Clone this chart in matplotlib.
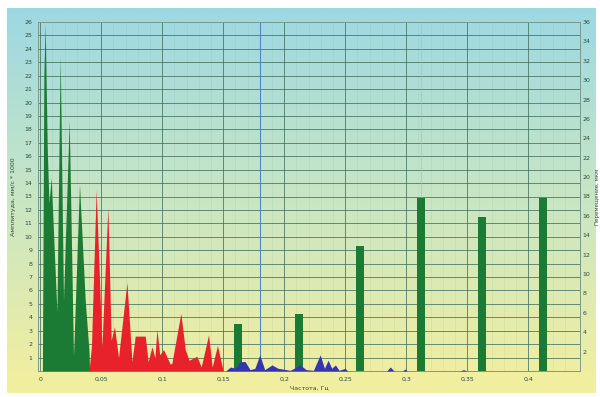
import numpy as np
import matplotlib.pyplot as plt
from matplotlib.colors import LinearSegmentedColormap

# spectrum, low band (green)
green_f = [0.0018, 0.0030, 0.0041, 0.0058, 0.0072, 0.0090, 0.0137, 0.0164, 0.0191,
           0.0238, 0.0273, 0.0322, 0.0369, 0.0400, 0.0405]
green_a = [0, 22.0, 25.9, 16.5, 12.5, 14.4, 4.4, 23.5, 5.3, 18.7, 1.1, 13.9, 5.3, 1.5, 0]

# spectrum, middle band (red)
red_f = [0.0400, 0.0420, 0.0459, 0.0506, 0.0555, 0.0582, 0.0609, 0.0642, 0.0711, 0.0752,
         0.0779, 0.0861, 0.0885, 0.0916, 0.0940, 0.0957, 0.0980, 0.1011, 0.1066, 0.1080,
         0.1153, 0.1189, 0.1220, 0.1284, 0.1320, 0.1380, 0.1410, 0.1453, 0.1500]
red_a = [0, 1.8, 13.5, 1.8, 12.2, 2.3, 3.3, 1.0, 6.6, 0.7,
         2.6, 2.6, 0.7, 1.8, 1.0, 3.1, 1.2, 1.6, 0.5, 0.6,
         4.3, 1.6, 0.8, 1.1, 0.3, 2.7, 0.3, 1.9, 0]

# spectrum, high band (blue)
blue_f = [0.152, 0.156, 0.160, 0.164, 0.168, 0.172, 0.176, 0.180, 0.184, 0.190, 0.195,
          0.205, 0.213, 0.218, 0.224, 0.2295, 0.233, 0.236, 0.239, 0.242, 0.245, 0.250,
          0.252, 0.284, 0.287, 0.290, 0.297, 0.299, 0.301, 0.344, 0.347, 0.350]
blue_a = [0, 0.3, 0.2, 0.7, 0.7, 0.1, 0.2, 1.2, 0.1, 0.45, 0.2,
          0.05, 0.45, 0.1, 0.05, 1.2, 0.2, 0.8, 0.2, 0.45, 0.05, 0.2,
          0, 0, 0.3, 0, 0, 0.15, 0, 0, 0.1, 0]

# discrete components (bars)
bar_f = [0.162, 0.212, 0.262, 0.312, 0.362, 0.412]
bar_a = [3.5, 4.25, 9.3, 12.9, 11.5, 12.9]

marker_f = 0.1803

x_ticks = [0, 0.05, 0.1, 0.15, 0.2, 0.25, 0.3, 0.35, 0.4]
x_labels = ["0", "0,05", "0,1", "0,15", "0,2", "0,25", "0,3", "0,35", "0,4"]
left_ticks = list(range(1, 27))
right_ticks = list(range(2, 37, 2))

W, H = 600, 397
fig = plt.figure(figsize=(W / 100, H / 100), dpi=100)

# gradient background panel
bg = fig.add_axes([7 / W, 1 - 393 / H, 589 / W, 385 / H])
cmap = LinearSegmentedColormap.from_list("bg", ["#9dd8e3", "#c9e6c4", "#f4ef9e"])
bg.imshow(np.linspace(0, 1, 256)[:, None], aspect="auto", cmap=cmap)
bg.axis("off")

ax = fig.add_axes([38 / W, 1 - 371 / H, 542 / W, 349 / H])
ax.set_facecolor("none")
ax.set_xlim(-0.0018, 0.4425)
ax.set_ylim(0, 26)

gridc = "#44725f"
ax.set_xticks(x_ticks)
ax.set_xticklabels(x_labels)
ax.set_xticks(np.arange(0, 0.44, 0.01), minor=True)
ax.set_yticks(left_ticks)
ax.grid(True, which="major", color=gridc, lw=0.7, alpha=0.8)
ax.grid(True, which="minor", axis="x", color=gridc, lw=0.4, alpha=0.12)
ax.tick_params(which="both", length=0, labelsize=4.5, colors="#2f4a3c", pad=4)
ax.tick_params(axis="y", which="minor", left=False)
for s in ax.spines.values():
    s.set_color("#7a9a8a")
    s.set_linewidth(0.7)

ax.fill_between(green_f, green_a, color="#1b7b34", lw=0, zorder=3)
ax.fill_between(red_f, red_a, color="#e8222a", lw=0, zorder=3)
ax.bar(bar_f, bar_a, width=0.0066, color="#1b7b34", zorder=3)
ax.fill_between(blue_f, blue_a, color="#3535b0", lw=0, zorder=4)
ax.axvline(marker_f, color="#4f86cc", lw=0.8, zorder=2)
ax.axvline(bar_f[3], color="#8ccf8c", lw=0.6, alpha=0.7, zorder=2)

ax.set_xlabel("Частота, Гц", fontsize=4.5, color="#2f4a3c", labelpad=3)
ax.set_ylabel("Амплитуда, мм/с * 1000", fontsize=4.5, color="#2f4a3c", labelpad=6)

ax2 = ax.twinx()
ax2.set_ylim(0, 36)
ax2.set_yticks(right_ticks)
ax2.tick_params(length=0, labelsize=4.5, colors="#2f4a3c", pad=2)
for s in ax2.spines.values():
    s.set_visible(False)
ax2.set_ylabel("Перемещение, мкм", fontsize=4, color="#2f4a3c")
ax2.yaxis.set_label_coords(1.027, 0.5)

fig.savefig("out.png", dpi=100, facecolor="white")
